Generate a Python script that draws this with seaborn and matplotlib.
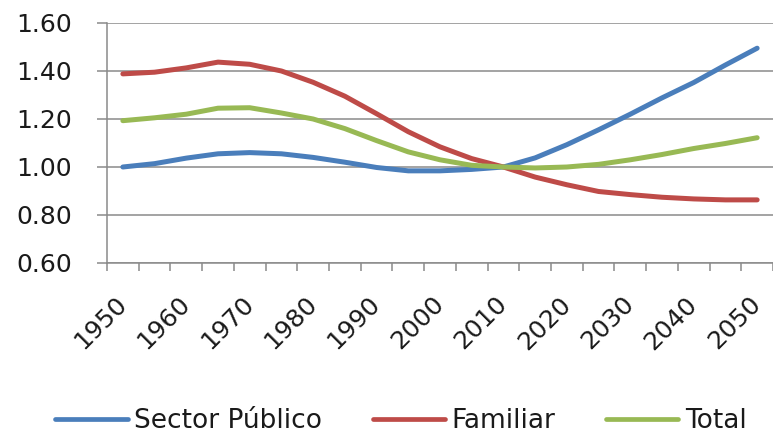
import numpy as np
import pandas as pd
import matplotlib
matplotlib.use("Agg")
import matplotlib.pyplot as plt
import seaborn as sns

years = list(range(1950, 2051, 5))
sector_publico = [1.000, 1.014, 1.037, 1.055, 1.060, 1.055, 1.040, 1.020, 0.998, 0.984, 0.984,
                  0.990, 1.000, 1.038, 1.093, 1.155, 1.220, 1.288, 1.352, 1.425, 1.495]
familiar = [1.388, 1.395, 1.413, 1.437, 1.428, 1.400, 1.353, 1.295, 1.222, 1.147, 1.084,
            1.035, 1.000, 0.958, 0.926, 0.898, 0.885, 0.874, 0.867, 0.863, 0.863]
total = [1.193, 1.205, 1.220, 1.245, 1.247, 1.225, 1.200, 1.160, 1.110, 1.063, 1.030,
         1.007, 1.000, 0.996, 1.000, 1.011, 1.030, 1.052, 1.077, 1.098, 1.122]
series_names = ["Sector Público", "Familiar", "Total"]
colors = ["#4A7EBB", "#BE4B48", "#98B954"]
y_ticks = [0.60, 0.80, 1.00, 1.20, 1.40, 1.60]
x_labels = [str(y) for y in range(1950, 2051, 10)]

df = pd.concat([
    pd.DataFrame({"año": years, "valor": vals, "serie": name})
    for name, vals in zip(series_names, [sector_publico, familiar, total])
])

sns.set_theme(style="white")
plt.rcParams["font.family"] = ["DejaVu Sans"]

fig = plt.figure(figsize=(7.73, 4.33), dpi=100)
ax = fig.add_axes([107 / 773, 1 - 263 / 433, 666 / 773, 240 / 433])

sns.lineplot(data=df, x="año", y="valor", hue="serie", hue_order=series_names,
             palette=colors, linewidth=3.6, ax=ax, legend=False)

grid_col = "#8a8a8a"
ax.set_ylim(0.60, 1.60)
ax.set_yticks(y_ticks)
ax.set_yticklabels([f"{v:.2f}" for v in y_ticks], fontsize=18, color="#1a1a1a")
ax.yaxis.grid(True, color=grid_col, linewidth=1.1)
ax.set_axisbelow(True)

# category-style axis: tick marks between categories, labels on every other category
ax.set_xlim(1947.5, 2052.5)
ax.set_xticks(np.arange(1947.5, 2053, 5))
ax.set_xticklabels([])
ax.set_xticks(list(range(1950, 2051, 10)), minor=True)
ax.set_xticklabels(x_labels, minor=True, rotation=45, ha="right", va="center",
                   rotation_mode="anchor", fontsize=18, color="#1a1a1a")
ax.tick_params(axis="x", which="major", direction="out", length=6, width=1.1,
               color=grid_col, bottom=True)
ax.tick_params(axis="x", which="minor", length=0, pad=27, bottom=True)
ax.tick_params(axis="y", direction="out", length=7, width=1.1, color=grid_col,
               left=True, pad=18)

for side in ["top", "right"]:
    ax.spines[side].set_visible(False)
for side in ["left", "bottom"]:
    ax.spines[side].set_color(grid_col)
    ax.spines[side].set_linewidth(1.1)

ax.set_xlabel("")
ax.set_ylabel("")

handles = [plt.Line2D([], [], color=c, linewidth=3.4) for c in colors]
fig.legend(handles, series_names, loc="center", bbox_to_anchor=(401 / 773, 0.027),
           ncol=3, frameon=False, fontsize=19, handlelength=2.75, handletextpad=0.25,
           columnspacing=1.9, borderpad=0, labelcolor="#1a1a1a")

fig.savefig("out.png", dpi=100)
